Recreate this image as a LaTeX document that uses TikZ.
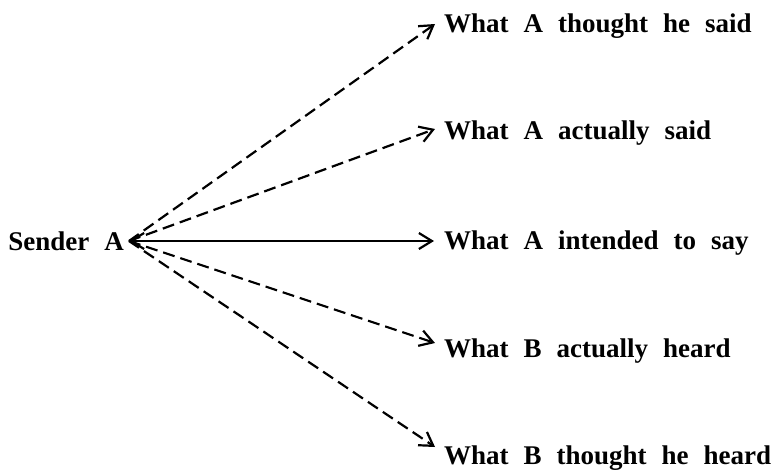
\documentclass[tikz,border=0pt]{standalone}
\usepackage{fontspec}
\setmainfont{Liberation Serif}
\usetikzlibrary{arrows.meta}
\newcommand\lblfont{\fontsize{27}{30}\selectfont\bfseries\spaceskip=15pt\relax}
\begin{document}
\begin{tikzpicture}[x=1pt,y=-1pt,
  tip/.tip={Straight Barb[length=13pt,width=16pt,line width=2.2pt]},
  lbl/.style={anchor=base west,inner sep=0pt,font=\lblfont},
  conn/.style={line width=2.2pt,-tip},
  dsh/.style={conn,dash pattern=on 12pt off 6pt}]
\useasboundingbox (0,0) rectangle (777,472);
\node[lbl,anchor=base east] (s) at (124,250) {Sender A};
\coordinate (o) at (129,241);
\node[lbl] (t1) at (444,32) {What A thought he said};
\node[lbl] (t2) at (444,139) {What A actually said};
\node[lbl] (t3) at (444,249) {What A intended to say};
\node[lbl] (t4) at (444,357) {What B actually heard};
\node[lbl] (t5) at (444,464) {What B thought he heard};
\coordinate (e1) at (435,24);
\coordinate (e2) at (435,129);
\coordinate (e3) at (434,241);
\coordinate (e4) at (435,343);
\coordinate (e5) at (435,447);
\draw[dsh] (o) -- (e1);
\draw[dsh] (o) -- (e2);
\draw[line width=2.2pt,tip-tip] (o) -- (e3);
\draw[dsh] (o) -- (e4);
\draw[dsh] (o) -- (e5);
\end{tikzpicture}
\end{document}
